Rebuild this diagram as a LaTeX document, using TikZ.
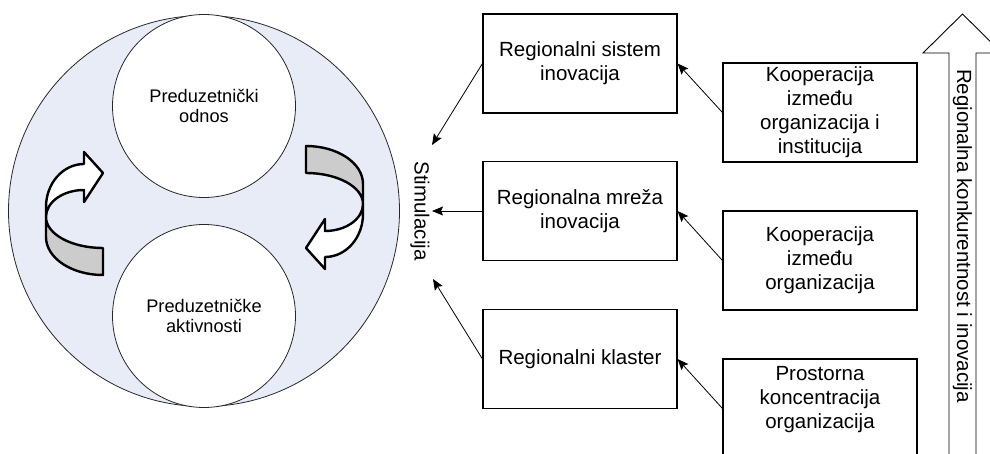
\documentclass[tikz,border=0pt]{standalone}
\usepackage{fontspec}
\setmainfont{Liberation Sans}
\usetikzlibrary{arrows.meta}
\definecolor{bluebg}{RGB}{231,236,247}
\definecolor{ribbongray}{RGB}{204,204,204}
\definecolor{edgegray}{RGB}{40,40,40}
\begin{document}
\begin{tikzpicture}[x=1pt,y=-1pt,
  bigtxt/.style={font=\fontsize{20.5}{24}\selectfont, align=center},
  circtxt/.style={font=\fontsize{18.2}{20.5}\selectfont, align=center},
  rbox/.style={draw=black, line width=1.1pt, fill=white, minimum width=194, minimum height=99, inner sep=0pt, bigtxt},
  circ/.style={circle, draw=edgegray, line width=0.8pt, inner sep=0pt},
  conn/.style={line width=0.8pt, -{Stealth[length=11pt,width=9pt,inset=2pt]}},
  ribbon/.style={draw=black, line width=2.4pt, line join=round},
]
\useasboundingbox (0,0) rectangle (990,454);
\clip (0,0) rectangle (990,454);

% circles
\node[circ, fill=bluebg, minimum size=391] (big) at (204,211) {};
\node[circ, fill=white, minimum size=183, circtxt] (rel) at (204,106) {Preduzetnički\\odnos};
\node[circ, fill=white, minimum size=183, circtxt] (act) at (204,316) {Preduzetničke\\aktivnosti};

% curved arrows (left one, and the right one as its 180 degree turn)
\foreach \ang in {0,180}{
\begin{scope}[rotate around={\ang:(204.5,210.5)}]
  \fill[ribbongray] (46,217) .. controls (46,234.1) and (71.5,248) .. (103,248)
     -- (103,275) .. controls (71.5,275) and (46,258) .. (46,237) -- cycle;
  \draw[ribbon] (46,217) .. controls (46,234.1) and (71.5,248) .. (103,248)
     -- (103,275) .. controls (71.5,275) and (46,258) .. (46,237) -- cycle;
  \filldraw[ribbon, fill=white] (46,217) -- (46,207) .. controls (46,183.3) and (63,164) .. (84,164)
     -- (84,152) -- (103,173) -- (84,202) -- (84,190)
     .. controls (63,190) and (46,202.1) .. (46,217) -- cycle;
\end{scope}
}

% middle column
\node[rbox] (sys) at (580,63.5) {Regionalni sistem\\inovacija};
\node[rbox] (net) at (580,211) {Regionalna mreža\\inovacija};
\node[rbox] (kla) at (580,359) {Regionalni klaster};

% right column
\node[rbox] (koopA) at (820,112.5) {Kooperacija\\između\\organizacija i\\institucija};
\node[rbox] (koopB) at (820,260.5) {Kooperacija\\između\\organizacija};
\node[rbox] (prost) at (820,408.5) {};
\node[bigtxt] (prosttxt) at (820,400) {Prostorna\\koncentracija\\organizacija};

% stimulation label
\node[bigtxt, rotate=-90] (stim) at (420,211) {Stimulacija};
\coordinate (s1) at (432,145);
\coordinate (s2) at (432,211);
\coordinate (s3) at (433,279);

\draw[conn] (sys.west) -- (s1);
\draw[conn] (net.west) -- (s2);
\draw[conn] (kla.west) -- (s3);

\draw[conn] (koopA.west) -- (sys.east);
\draw[conn] (koopB.west) -- (net.east);
\draw[conn] (prost.west) -- (kla.east);

% big vertical arrow
\draw[line width=0.9pt, fill=white, line join=miter] (949,470) -- (949,53) -- (923,53) -- (962.5,14) -- (1002,53) -- (976,53) -- (976,470);
\node[bigtxt, rotate=-90] (comp) at (962.5,236) {Regionalna konkurentnost i inovacija};
\end{tikzpicture}
\end{document}
